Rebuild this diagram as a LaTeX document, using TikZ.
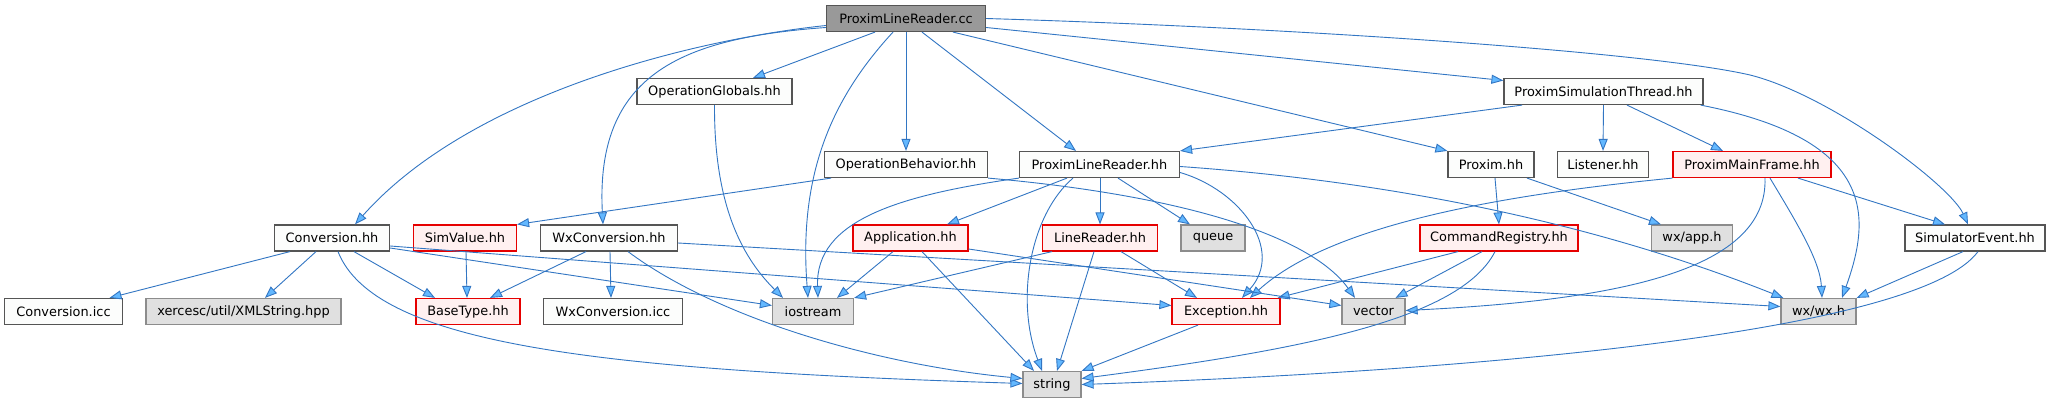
\documentclass[tikz,border=0pt]{standalone}
\usepackage{fontspec}
\setmainfont{DejaVu Sans}
\usetikzlibrary{arrows.meta,calc}
\definecolor{linecol}{RGB}{50,118,195}
\definecolor{arrowfill}{RGB}{99,184,255}
\definecolor{nborder}{RGB}{85,85,85}
\definecolor{nfill}{RGB}{252,253,252}
\definecolor{gfill}{RGB}{224,224,224}
\definecolor{gborder}{RGB}{140,140,140}
\definecolor{rfill}{RGB}{255,240,240}
\definecolor{rborder}{RGB}{230,0,0}
\definecolor{rootfill}{RGB}{153,153,153}
\begin{document}
\begin{tikzpicture}[x=1pt,y=-1pt,
 box/.style={draw=nborder,fill=nfill,line width=1.2pt,minimum height=26pt,inner sep=0pt,font=\fontsize{12.9}{15}\selectfont},
 sys/.style={box,draw=gborder,fill=gfill},
 hot/.style={box,draw=rborder,fill=rfill},
 root/.style={box,fill=rootfill},
 dep/.style={draw=linecol,line width=0.9pt,-{Triangle[length=12pt,width=9pt,fill=arrowfill]}}]
\fill[white] (0,0) rectangle (2066,403);
\useasboundingbox (0,0) rectangle (2066,403);
% nodes
\node[root,minimum width=159pt] (cc) at (906,18.5) {ProximLineReader.cc};
\node[box,minimum width=155pt] (og) at (714.5,91.5) {OperationGlobals.hh};
\node[box,minimum width=199pt] (pst) at (1603.5,91.5) {ProximSimulationThread.hh};
\node[box,minimum width=163pt] (ob) at (906,164.5) {OperationBehavior.hh};
\node[box,minimum width=160pt] (plr) at (1099.5,164.5) {ProximLineReader.hh};
\node[box,minimum width=86pt] (proxim) at (1491,164.5) {Proxim.hh};
\node[box,minimum width=91pt] (listener) at (1603,164.5) {Listener.hh};
\node[hot,minimum width=158pt] (pmf) at (1752,164.5) {ProximMainFrame.hh};
\node[box,minimum width=115pt] (conv) at (332,238) {Conversion.hh};
\node[hot,minimum width=103pt] (simvalue) at (465,238) {SimValue.hh};
\node[box,minimum width=137pt] (wxconv) at (609,238) {WxConversion.hh};
\node[hot,minimum width=115pt] (app) at (910.5,238) {Application.hh};
\node[hot,minimum width=115pt] (linereader) at (1100,238) {LineReader.hh};
\node[sys,minimum width=64pt] (queue) at (1213,238) {queue};
\node[hot,minimum width=158pt] (cmdreg) at (1499,238) {CommandRegistry.hh};
\node[sys,minimum width=81pt] (wxapp) at (1692,238) {wx/app.h};
\node[box,minimum width=140pt] (simevent) at (1975,238) {SimulatorEvent.hh};
\node[box,minimum width=118pt] (convicc) at (63.5,311.5) {Conversion.icc};
\node[sys,minimum width=195pt] (xerces) at (243.5,311.5) {xercesc/util/XMLString.hpp};
\node[hot,minimum width=104pt] (basetype) at (468,311.5) {BaseType.hh};
\node[box,minimum width=139pt] (wxconvicc) at (613,311.5) {WxConversion.icc};
\node[sys,minimum width=81pt] (iostream) at (813,311.5) {iostream};
\node[hot,minimum width=108pt] (exception) at (1226,311.5) {Exception.hh};
\node[sys,minimum width=63pt] (vector) at (1373.5,311.5) {vector};
\node[sys,minimum width=75pt] (wxwx) at (1818.5,311.5) {wx/wx.h};
\node[sys,minimum width=58pt] (string) at (1052,384.5) {string};
% edges from ProximLineReader.cc
\draw[dep] ($(cc.south)+(-31,0)$) -- ($(og.north)+(38.5,0)$);
\draw[dep] (cc.south) -- (ob.north);
\draw[dep] ($(cc.south)+(16,0)$) -- ($(plr.north)+(-23.5,0)$);
\draw[dep] ($(cc.south)+(-13,0)$) .. controls (835,95) and (798,170) .. ($(iostream.north)+(-5,0)$);
\draw[dep] ($(cc.west)+(0,7)$) .. controls (690,40) and (470,95) .. ($(conv.north)+(23,0)$);
\draw[dep] ($(cc.west)+(0,9)$) .. controls (680,38) and (595,75) .. ($(wxconv.north)+(-6,0)$);
\draw[dep] ($(cc.east)+(0,9)$) -- ($(pst.west)+(0,-11)$);
\draw[dep] ($(cc.south)+(47,0)$) -- (proxim.north west);
\draw[dep] (cc.east) .. controls (1300,28) and (1650,52) .. (1750,75) .. controls (1830,95) and (1950,185) .. ($(simevent.north)+(-7,0)$);
% OperationGlobals, OperationBehavior
\draw[dep] (og.south) .. controls (714,210) and (745,260) .. ($(iostream.north)+(-30,0)$);
\draw[dep] ($(ob.south)+(-75,0)$) -- (simvalue.north east);
\draw[dep] (ob.south east) .. controls (1180,195) and (1310,235) .. ($(vector.north)+(-18.5,0)$);
% ProximLineReader.hh
\draw[dep] ($(plr.south)+(-32.5,0)$) -- ($(app.north)+(36.5,0)$);
\draw[dep] ($(plr.south)+(0.5,0)$) -- (linereader.north);
\draw[dep] ($(plr.south)+(18.5,0)$) -- ($(queue.north)+(-23,0)$);
\draw[dep] ($(plr.south)+(-26.5,0)$) .. controls (1030,215) and (1015,300) .. ($(string.north)+(-10,0)$);
\draw[dep] (plr.south west) .. controls (900,195) and (815,220) .. ($(iostream.north)+(5,0)$);
\draw[dep] ($(plr.east)+(0,8)$) .. controls (1240,190) and (1285,250) .. ($(exception.north)+(16,0)$);
\draw[dep] ($(plr.east)+(0,2)$) .. controls (1400,182) and (1600,225) .. ($(wxwx.north west)+(3,0)$);
% ProximSimulationThread.hh
\draw[dep] ($(pst.south)+(-81.5,0)$) -- (plr.north east);
\draw[dep] (pst.south) -- (listener.north);
\draw[dep] ($(pst.south)+(23.5,0)$) -- ($(pmf.north)+(-29,0)$);
\draw[dep] ($(pst.south east)+(-3,0)$) .. controls (1880,140) and (1870,220) .. ($(wxwx.north)+(23.5,0)$);
% Proxim.hh
\draw[dep] ($(proxim.south)+(4,0)$) -- (cmdreg.north);
\draw[dep] ($(proxim.south)+(36,0)$) -- ($(wxapp.north)+(-31,0)$);
% ProximMainFrame.hh
\draw[dep] (pmf.south west) .. controls (1500,195) and (1330,225) .. ($(exception.north)+(24,0)$);
\draw[dep] ($(pmf.south)+(13,0)$) .. controls (1768,270) and (1620,300) .. ($(vector.east)+(0,-1)$);
\draw[dep] ($(pmf.south)+(18,0)$) .. controls (1795,220) and (1820,260) .. ($(wxwx.north)+(3.5,0)$);
\draw[dep] ($(pmf.south)+(46,0)$) -- ($(simevent.north)+(-30,0)$);
% SimulatorEvent.hh
\draw[dep] ($(simevent.south)+(-12,0)$) -- (wxwx.north east);
\draw[dep] ($(simevent.south)+(3,0)$) .. controls (1920,330) and (1500,370) .. (string.east);
% CommandRegistry.hh
\draw[dep] ($(cmdreg.south)+(-41,0)$) -- ($(exception.north east)+(-3,0)$);
\draw[dep] ($(cmdreg.south)+(-17,0)$) -- ($(vector.north)+(22,0)$);
\draw[dep] ($(cmdreg.south)+(-4,0)$) .. controls (1460,320) and (1300,350) .. ($(string.east)+(0,-6)$);
% Application.hh
\draw[dep] ($(app.south)+(-17.5,0)$) -- ($(iostream.north)+(24,0)$);
\draw[dep] ($(app.south)+(11.5,0)$) -- ($(string.north)+(-18,0)$);
\draw[dep] ($(app.east)+(0,11)$) -- ($(vector.west)+(0,-6)$);
% LineReader.hh
\draw[dep] ($(linereader.south)+(-48,0)$) -- (iostream.north east);
\draw[dep] ($(linereader.south)+(-6,0)$) -- ($(string.north)+(5,0)$);
\draw[dep] ($(linereader.south)+(21,0)$) -- ($(exception.north)+(-29,0)$);
% Exception.hh
\draw[dep] ($(exception.south)+(-28,0)$) -- (string.north east);
% Conversion.hh
\draw[dep] ($(conv.south)+(-42,0)$) -- ($(convicc.north)+(46,0)$);
\draw[dep] ($(conv.south)+(-16,0)$) -- ($(xerces.north)+(21.5,0)$);
\draw[dep] ($(conv.south)+(22,0)$) -- ($(basetype.north)+(-33,0)$);
\draw[dep] ($(conv.south)+(6,0)$) .. controls (375,345) and (600,370) .. ($(string.west)+(0,-1)$);
\draw[dep] ($(conv.east)+(0,10)$) -- ($(iostream.west)+(0,-6)$);
\draw[dep] ($(conv.east)+(0,8)$) -- ($(exception.west)+(0,-6)$);
% SimValue.hh
\draw[dep] ($(simvalue.south)+(1,0)$) -- ($(basetype.north)+(-1,0)$);
% WxConversion.hh
\draw[dep] ($(wxconv.south)+(-23,0)$) -- ($(basetype.north)+(22,0)$);
\draw[dep] ($(wxconv.south)+(1,0)$) -- ($(wxconvicc.north)+(-2,0)$);
\draw[dep] ($(wxconv.south)+(19,0)$) .. controls (720,320) and (880,365) .. ($(string.west)+(0,-6)$);
\draw[dep] ($(wxconv.east)+(0,5)$) -- ($(wxwx.west)+(0,-5)$);
\end{tikzpicture}
\end{document}
